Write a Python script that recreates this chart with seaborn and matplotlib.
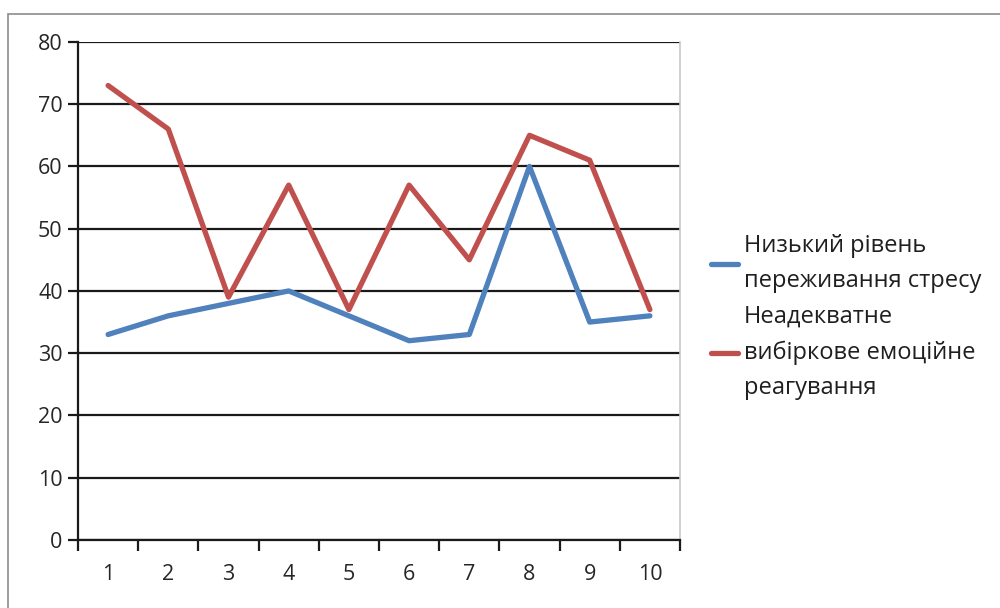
import matplotlib
matplotlib.use("Agg")
import matplotlib.pyplot as plt
from matplotlib.patches import Rectangle
from matplotlib.ticker import FixedLocator
import numpy as np
import pandas as pd
import seaborn as sns

# Data
categories = [1, 2, 3, 4, 5, 6, 7, 8, 9, 10]
low_stress = [33, 36, 38, 40, 36, 32, 33, 60, 35, 36]
inadequate_response = [73, 66, 39, 57, 37, 57, 45, 65, 61, 37]
series_names = ["Низький рівень\nпереживання стресу",
                "Неадекватне\nвибіркове емоційне\nреагування"]
y_ticks = [0, 10, 20, 30, 40, 50, 60, 70, 80]

df = pd.concat([
    pd.DataFrame({"x": categories, "y": low_stress, "series": series_names[0]}),
    pd.DataFrame({"x": categories, "y": inadequate_response, "series": series_names[1]}),
])

sns.set_style("white")
plt.rcParams["font.family"] = ["Open Sans", "DejaVu Sans"]

fig = plt.figure(figsize=(10, 6.08), dpi=100)
ax = fig.add_axes([0.078, 0.112, 0.602, 0.819])

palette = {series_names[0]: "#4F81BD", series_names[1]: "#C0504D"}
sns.lineplot(data=df, x="x", y="y", hue="series", palette=palette,
             linewidth=3.8, ax=ax, legend=True)

ax.set_xlim(0.5, 10.5)
ax.set_ylim(0, 80)
ax.set_xlabel("")
ax.set_ylabel("")

# Horizontal gridlines
ax.yaxis.set_major_locator(FixedLocator(y_ticks))
ax.grid(axis="y", color="#1a1a1a", linewidth=1.6)
ax.grid(axis="x", visible=False)
ax.set_axisbelow(True)

# Category axis: labels at centres, tick marks between categories
ax.xaxis.set_major_locator(FixedLocator(categories))
ax.set_xticklabels([str(c) for c in categories])
ax.xaxis.set_minor_locator(FixedLocator(np.arange(0.5, 11, 1.0)))
ax.tick_params(axis="both", which="both", bottom=True, left=True)
ax.tick_params(axis="x", which="major", length=0, pad=17, labelsize=15.5, labelcolor="#262626")
ax.tick_params(axis="x", which="minor", length=8, width=1.6, color="#1a1a1a", direction="out")
ax.tick_params(axis="y", which="major", length=7, width=1.6, color="#1a1a1a",
               direction="out", pad=4, labelsize=15.5, labelcolor="#262626")

for side in ["left", "bottom"]:
    ax.spines[side].set_visible(True)
    ax.spines[side].set_color("#1a1a1a")
    ax.spines[side].set_linewidth(1.6)
ax.spines["top"].set_visible(False)
ax.spines["right"].set_visible(True)
ax.spines["right"].set_color("#c8c8c8")
ax.spines["right"].set_linewidth(1.2)

handles, labels = ax.get_legend_handles_labels()
leg = ax.legend(handles, labels, loc="center left", bbox_to_anchor=(1.035, 0.448),
                frameon=False, fontsize=17, handlelength=1.15, handletextpad=0.25,
                labelspacing=0.5, borderaxespad=0)
for line in leg.get_lines():
    line.set_linewidth(3.8)
for t in leg.get_texts():
    t.set_linespacing(1.63)
    t.set_color("#1f1f1f")

# Outer chart border
fig.patches.append(Rectangle((0.008, -0.05), 1.05, 0.977 + 0.05,
                             transform=fig.transFigure, fill=False,
                             edgecolor="#8c8c8c", linewidth=1.2, zorder=10))

fig.savefig("out.png", dpi=100)
